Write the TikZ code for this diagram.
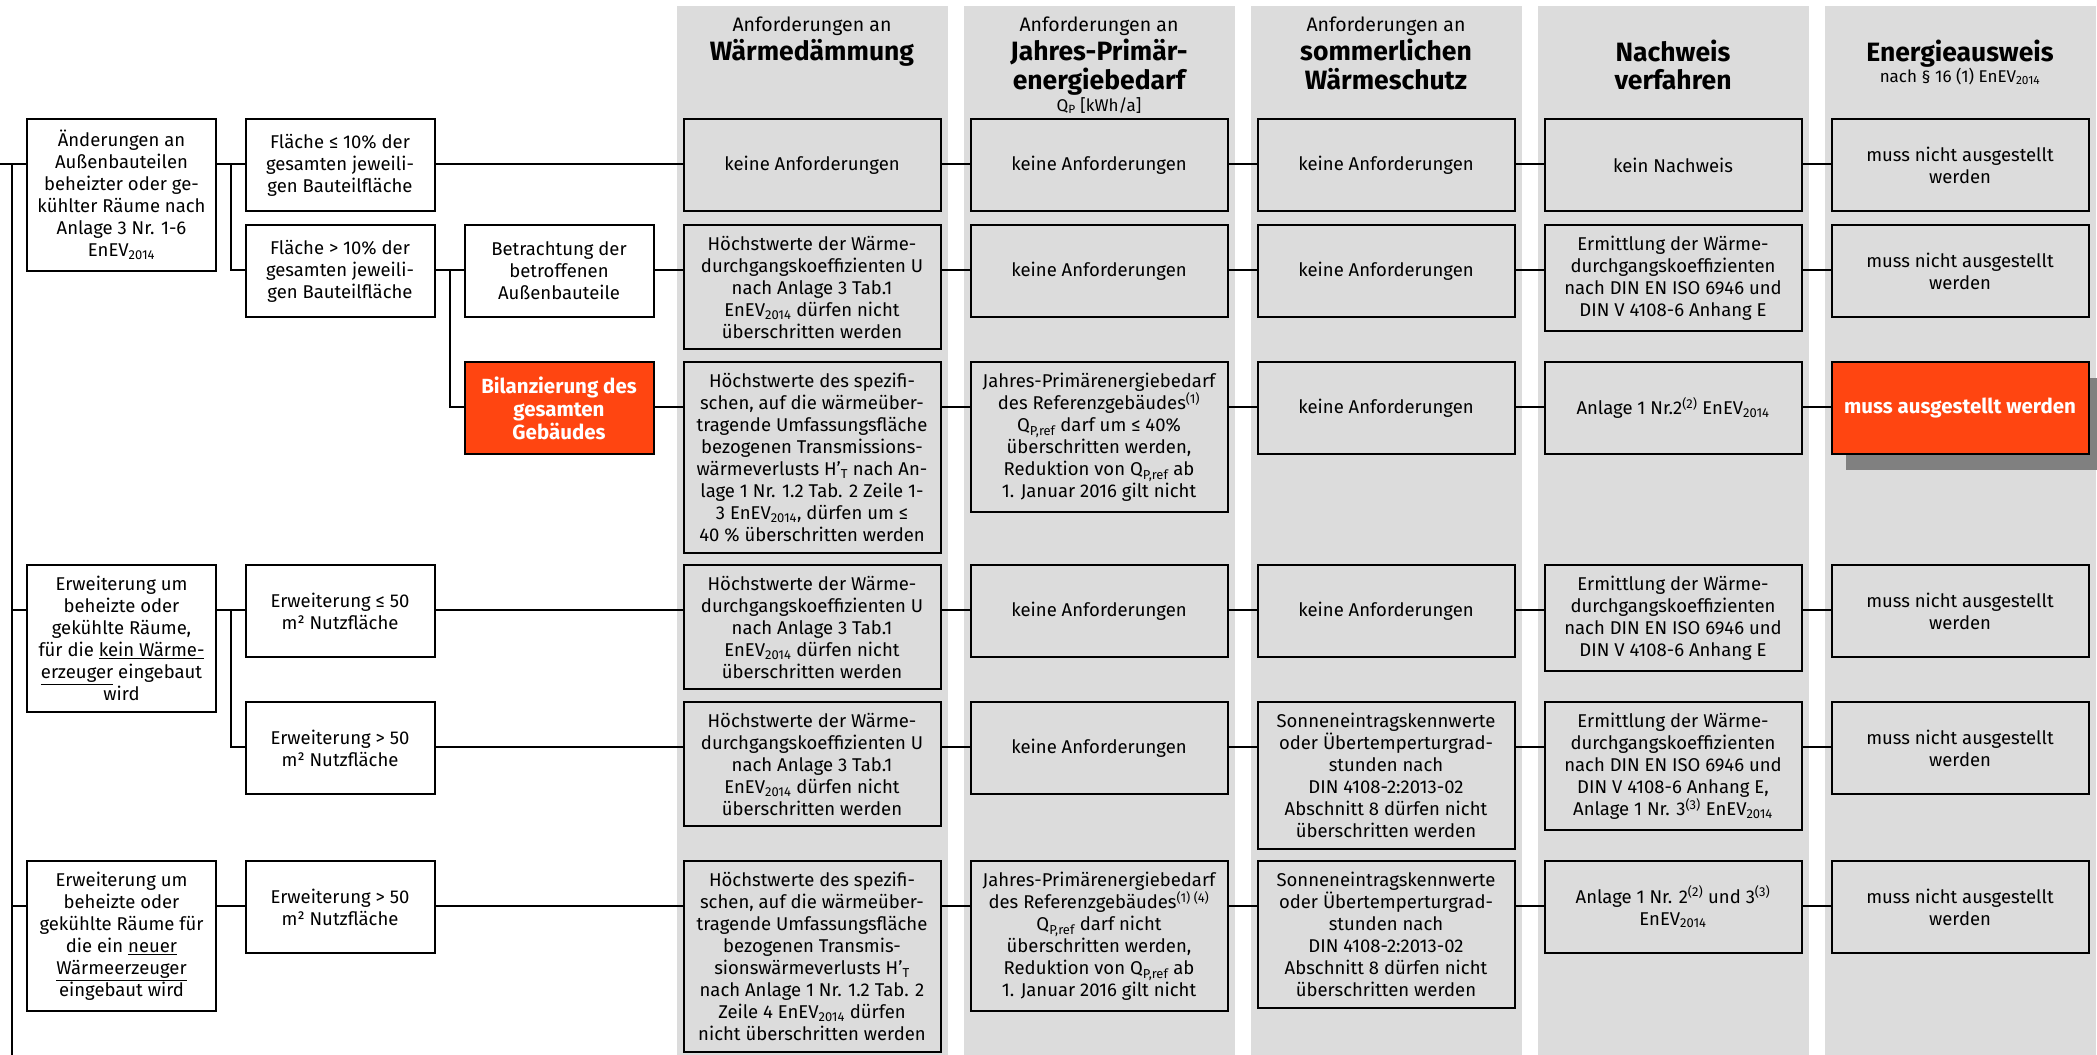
\documentclass[tikz,border=0pt]{standalone}
\usepackage{fontspec}
\setmainfont{Fira Sans}
\usetikzlibrary{shadows}

\definecolor{colgray}{RGB}{220,220,220}
\definecolor{enevred}{RGB}{255,69,17}
\definecolor{shadowgray}{RGB}{128,128,128}
\newcommand{\boxfont}{\fontsize{18.5}{22}\selectfont}
\newcommand{\headfont}{\fontsize{26.5}{30}\selectfont\bfseries}
\newcommand{\enev}{EnEV\textsubscript{2014}}
\newcommand{\qpref}{Q\textsubscript{P,ref}}

\begin{document}
\begin{tikzpicture}[x=1pt, y=-1pt,
  box/.style={draw, line width=2pt, anchor=north, align=center, minimum height=92pt,
    inner xsep=4pt, inner ysep=11pt, font=\boxfont},
  leftbox/.style={box, fill=white, minimum width=189pt},
  colbox/.style={box, fill=colgray, minimum width=257pt},
  redbox/.style={fill=enevred, text=white, font=\fontsize{20.5}{23}\selectfont\bfseries},
  headnote/.style={anchor=base, font=\fontsize{19.5}{22}\selectfont},
  headbold/.style={anchor=base, font=\headfont},
  link/.style={line width=2pt}]

  \useasboundingbox (0,0) rectangle (2097,1055);
  \foreach \cx in {812,1099,1386,1673,1960}
    \fill[colgray] (\cx-135.5,6) rectangle (\cx+135.5,1055);

  % column heads
  \node[headnote] (hd1) at (812,31) {Anforderungen an};
  \node[headbold] (hd1b) at (812,60) {Wärmedämmung};
  \node[headnote] (hd2) at (1099,31) {Anforderungen an};
  \node[headbold] (hd2b) at (1099,60) {Jahres-Primär-};
  \node[headbold] (hd2c) at (1099,89) {energiebedarf};
  \node[headnote, font=\fontsize{17}{20}\selectfont] (hd2d) at (1099,111) {Q\textsubscript{P} [kWh/a]};
  \node[headnote] (hd3) at (1386,31) {Anforderungen an};
  \node[headbold] (hd3b) at (1386,60) {sommerlichen};
  \node[headbold] (hd3c) at (1386,89) {Wärmeschutz};
  \node[headbold] (hd4) at (1673,61) {Nachweis};
  \node[headbold] (hd4b) at (1673,89) {verfahren};
  \node[headbold] (hd5) at (1960,61) {Energieausweis};
  \node[headnote, font=\fontsize{17}{20}\selectfont] (hd5b) at (1960,82) {nach § 16 (1) \enev};

  \coordinate (row1) at (0,164);
  \coordinate (row2) at (0,270);
  \coordinate (row3) at (0,407);
  \coordinate (row4) at (0,610);
  \coordinate (row5) at (0,747);
  \coordinate (row6) at (0,906);
  \coordinate (stub) at (0,164);
  \coordinate (trunk) at (12,0);
  \coordinate (trunkend) at (12,1055);
  \coordinate (jA) at (231,0);
  \coordinate (jB) at (449.5,0);

  % left part
  \node[leftbox] (aend) at (121.5,118) {Änderungen an\\Außenbauteilen\\beheizter oder ge-\\kühlter Räume nach\\Anlage 3 Nr. 1-6\\\enev};
  \node[leftbox] (erwk) at (121.5,564) {Erweiterung um\\beheizte oder\\gekühlte Räume,\\für die \underline{kein Wärme-}\\\underline{erzeuger} eingebaut\\wird};
  \node[leftbox] (erwn) at (121.5,860) {Erweiterung um\\beheizte oder\\gekühlte Räume für\\die ein \underline{neuer}\\\underline{Wärmeerzeuger}\\eingebaut wird};
  \node[leftbox] (fkl) at (340,118) {Fläche ≤ 10\% der\\gesamten jeweili-\\gen Bauteilfläche};
  \node[leftbox] (fgr) at (340,224) {Fläche > 10\% der\\gesamten jeweili-\\gen Bauteilfläche};
  \node[leftbox] (ekl) at (340,564) {Erweiterung ≤ 50\\m² Nutzfläche};
  \node[leftbox] (egr) at (340,701) {Erweiterung > 50\\m² Nutzfläche};
  \node[leftbox] (egrn) at (340,860) {Erweiterung > 50\\m² Nutzfläche};
  \node[leftbox] (betr) at (559,224) {Betrachtung der\\betroffenen\\Außenbauteile};
  \node[leftbox, redbox] (bil) at (559,361) {Bilanzierung des\\gesamten\\Gebäudes};

  % row 1
  \node[colbox] (daem1) at (812,118) {keine Anforderungen};
  \node[colbox] (prim1) at (1099,118) {keine Anforderungen};
  \node[colbox] (somm1) at (1386,118) {keine Anforderungen};
  \node[colbox] (nach1) at (1673,118) {kein Nachweis};
  \node[colbox] (ausw1) at (1960,118) {muss nicht ausgestellt\\werden};
  % row 2
  \node[colbox] (daem2) at (812,224) {Höchstwerte der Wärme-\\durchgangskoeffizienten U\\nach Anlage 3 Tab.1\\\enev{} dürfen nicht\\überschritten werden};
  \node[colbox] (prim2) at (1099,224) {keine Anforderungen};
  \node[colbox] (somm2) at (1386,224) {keine Anforderungen};
  \node[colbox] (nach2) at (1673,224) {Ermittlung der Wärme-\\durchgangskoeffizienten\\nach DIN EN ISO 6946 und\\DIN V 4108-6 Anhang E};
  \node[colbox] (ausw2) at (1960,224) {muss nicht ausgestellt\\werden};
  % row 3
  \node[colbox] (daem3) at (812,361) {Höchstwerte des spezifi-\\schen, auf die wärmeüber-\\tragende Umfassungsfläche\\bezogenen Transmissions-\\wärmeverlusts H'\textsubscript{T} nach An-\\lage 1 Nr. 1.2 Tab. 2 Zeile 1-\\3 \enev, dürfen um ≤\\40 \% überschritten werden};
  \node[colbox] (prim3) at (1099,361) {Jahres-Primärenergiebedarf\\des Referenzgebäudes\textsuperscript{(1)}\\\qpref{} darf um ≤ 40\%\\überschritten werden,\\Reduktion von \qpref{} ab\\1. Januar 2016 gilt nicht};
  \node[colbox] (somm3) at (1386,361) {keine Anforderungen};
  \node[colbox] (nach3) at (1673,361) {Anlage 1 Nr.2\textsuperscript{(2)} \enev};
  \node[colbox, redbox, drop shadow={shadow xshift=14pt, shadow yshift=-16pt, fill=shadowgray, opacity=1}] (ausw3) at (1960,361) {muss ausgestellt werden};
  % row 4
  \node[colbox] (daem4) at (812,564) {Höchstwerte der Wärme-\\durchgangskoeffizienten U\\nach Anlage 3 Tab.1\\\enev{} dürfen nicht\\überschritten werden};
  \node[colbox] (prim4) at (1099,564) {keine Anforderungen};
  \node[colbox] (somm4) at (1386,564) {keine Anforderungen};
  \node[colbox] (nach4) at (1673,564) {Ermittlung der Wärme-\\durchgangskoeffizienten\\nach DIN EN ISO 6946 und\\DIN V 4108-6 Anhang E};
  \node[colbox] (ausw4) at (1960,564) {muss nicht ausgestellt\\werden};
  % row 5
  \node[colbox] (daem5) at (812,701) {Höchstwerte der Wärme-\\durchgangskoeffizienten U\\nach Anlage 3 Tab.1\\\enev{} dürfen nicht\\überschritten werden};
  \node[colbox] (prim5) at (1099,701) {keine Anforderungen};
  \node[colbox] (somm5) at (1386,701) {Sonneneintragskennwerte\\oder Übertemperturgrad-\\stunden nach\\DIN 4108-2:2013-02\\Abschnitt 8 dürfen nicht\\überschritten werden};
  \node[colbox] (nach5) at (1673,701) {Ermittlung der Wärme-\\durchgangskoeffizienten\\nach DIN EN ISO 6946 und\\DIN V 4108-6 Anhang E,\\Anlage 1 Nr. 3\textsuperscript{(3)} \enev};
  \node[colbox] (ausw5) at (1960,701) {muss nicht ausgestellt\\werden};
  % row 6
  \node[colbox] (daem6) at (812,860) {Höchstwerte des spezifi-\\schen, auf die wärmeüber-\\tragende Umfassungsfläche\\bezogenen Transmis-\\sionswärmeverlusts H'\textsubscript{T}\\nach Anlage 1 Nr. 1.2 Tab. 2\\Zeile 4 \enev{} dürfen\\nicht überschritten werden};
  \node[colbox] (prim6) at (1099,860) {Jahres-Primärenergiebedarf\\des Referenzgebäudes\textsuperscript{(1) (4)}\\\qpref{} darf nicht\\überschritten werden,\\Reduktion von \qpref{} ab\\1. Januar 2016 gilt nicht};
  \node[colbox] (somm6) at (1386,860) {Sonneneintragskennwerte\\oder Übertemperturgrad-\\stunden nach\\DIN 4108-2:2013-02\\Abschnitt 8 dürfen nicht\\überschritten werden};
  \node[colbox] (nach6) at (1673,860) {Anlage 1 Nr. 2\textsuperscript{(2)} und 3\textsuperscript{(3)}\\\enev};
  \node[colbox] (ausw6) at (1960,860) {muss nicht ausgestellt\\werden};

  % connectors
  \draw[link] (stub) -- (aend.west |- row1);
  \draw[link] (trunk |- row1) -- (trunkend);
  \draw[link] (trunk |- row4) -- (erwk.west |- row4);
  \draw[link] (trunk |- row6) -- (erwn.west |- row6);
  \draw[link] (aend.east |- row1) -- (fkl.west |- row1);
  \draw[link] (jA |- row1) -- (jA |- row2) -- (fgr.west |- row2);
  \draw[link] (fgr.east |- row2) -- (betr.west |- row2);
  \draw[link] (jB |- row2) -- (jB |- row3) -- (bil.west |- row3);
  \draw[link] (erwk.east |- row4) -- (ekl.west |- row4);
  \draw[link] (jA |- row4) -- (jA |- row5) -- (egr.west |- row5);
  \draw[link] (erwn.east |- row6) -- (egrn.west |- row6);
  \draw[link] (fkl.east |- row1) -- (daem1.west |- row1);
  \draw[link] (betr.east |- row2) -- (daem2.west |- row2);
  \draw[link] (bil.east |- row3) -- (daem3.west |- row3);
  \draw[link] (ekl.east |- row4) -- (daem4.west |- row4);
  \draw[link] (egr.east |- row5) -- (daem5.west |- row5);
  \draw[link] (egrn.east |- row6) -- (daem6.west |- row6);
  \foreach \r in {1,...,6} {
    \draw[link] (daem\r.east |- row\r) -- (prim\r.west |- row\r);
    \draw[link] (prim\r.east |- row\r) -- (somm\r.west |- row\r);
    \draw[link] (somm\r.east |- row\r) -- (nach\r.west |- row\r);
    \draw[link] (nach\r.east |- row\r) -- (ausw\r.west |- row\r);
  }
\end{tikzpicture}
\end{document}
